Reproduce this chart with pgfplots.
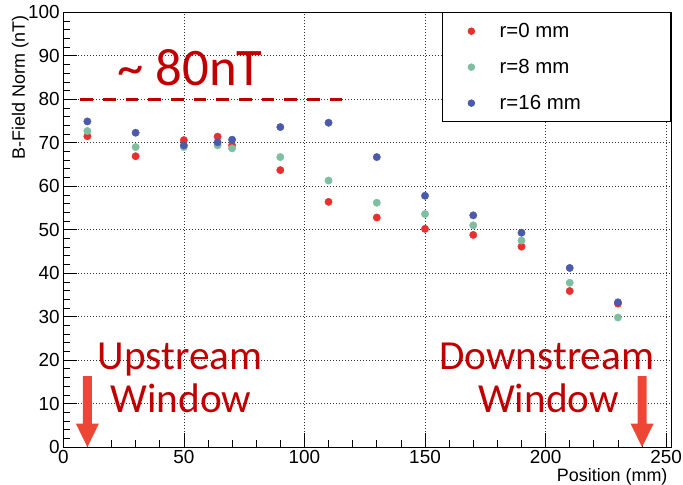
\documentclass[border=0pt]{standalone}
\usepackage{fontspec}
\setmainfont{Liberation Sans}
\newfontfamily\calibri{Carlito}
\usepackage{pgfplots}
\pgfplotsset{compat=1.18}
\usetikzlibrary{calc}

\definecolor{ptred}{HTML}{E8302E}
\definecolor{ptgreen}{HTML}{7DBFA0}
\definecolor{ptblue}{HTML}{4B5AAA}
\definecolor{annred}{HTML}{C00000}
\definecolor{arrowred}{HTML}{EE4634}

\newcommand{\legtext}[1]{\hspace{25bp}\makebox[145bp][l]{#1}}

\begin{document}
\begin{tikzpicture}
\begin{axis}[
    name=ax,
    scale only axis,
    width=608bp, height=435bp,
    xmin=0, xmax=252, ymin=0, ymax=100,
    xtick={0,50,...,250}, ytick={0,10,...,100},
    minor x tick num=4, minor y tick num=4,
    tick align=inside, xtick pos=bottom, ytick pos=left,
    major tick length=14bp, minor tick length=7bp,
    grid=major,
    major grid style={dash pattern=on 1bp off 2bp, black!80, line width=0.6pt},
    axis line style={line width=0.8pt},
    tick style={black, line width=0.7pt},
    /pgf/number format/assume math mode=true,
    tick label style={font=\fontsize{19}{19}\selectfont},
    legend style={at={(1,1)}, anchor=north east, draw=black, line width=0.8pt,
        inner xsep=26bp, inner ysep=12bp, row sep=23bp,
        font=\fontsize{20.5}{20.5}\selectfont,
        nodes={inner sep=0pt, text height=13bp, text depth=0pt}},
    legend cell align=left,
    legend image post style={mark size=3.3bp},
]
\addplot[only marks, mark=*, mark size=3.7bp, color=ptred] coordinates {
    (10,71.5) (30,66.9) (50,70.6) (64,71.4) (70,69.4) (90,63.7) (110,56.4)
    (130,52.8) (150,50.2) (170,48.8) (190,46.1) (210,35.9) (230,33.0)
};
\addplot[only marks, mark=*, mark size=3.7bp, color=ptgreen] coordinates {
    (10,72.7) (30,69.0) (50,69.0) (64,69.4) (70,68.7) (90,66.7) (110,61.3)
    (130,56.2) (150,53.6) (170,51.0) (190,47.5) (210,37.8) (230,29.8)
};
\addplot[only marks, mark=*, mark size=3.7bp, color=ptblue] coordinates {
    (10,74.9) (30,72.3) (50,69.4) (64,70.1) (70,70.7) (90,73.6) (110,74.6)
    (130,66.7) (150,57.8) (170,53.3) (190,49.3) (210,41.2) (230,33.3)
};
\legend{\legtext{r=0 mm}, \legtext{r=8 mm}, \legtext{r=16 mm}}

% ~80 nT reference level
\addplot[annred, line width=3.3bp, dash pattern=on 12.7bp off 10bp, no marks]
    coordinates {(7,80) (119,80)};

% window arrows
\addplot[fill=arrowred, draw=none, no marks] coordinates {
    (8.13,16.3) (11.87,16.3) (11.87,5.4) (14.77,5.4) (10,0) (5.23,5.4) (8.13,5.4)
} -- cycle;
\addplot[fill=arrowred, draw=none, no marks] coordinates {
    (238.13,16.3) (241.87,16.3) (241.87,5.4) (244.77,5.4) (240,0) (235.23,5.4) (238.13,5.4)
} -- cycle;

\node[annred, font=\calibri\fontsize{53}{53}\selectfont] at (axis cs:52.6,87.3) {\textasciitilde\ 80nT};
\node[annred, anchor=base, font=\calibri\fontsize{41.5}{41.5}\selectfont] at (axis cs:48.4,17.85) {Upstream};
\node[annred, anchor=base, font=\calibri\fontsize{41.5}{41.5}\selectfont] at (axis cs:48.8,8.0) {Window};
\node[annred, anchor=base, font=\calibri\fontsize{41.5}{41.5}\selectfont] at (axis cs:200.5,17.85) {Downstream};
\node[annred, anchor=base, font=\calibri\fontsize{41.5}{41.5}\selectfont] at (axis cs:201.2,8.0) {Window};
\end{axis}

\node[rotate=90, anchor=base east, font=\fontsize{18}{18}\selectfont] at ($(ax.north west)+(-38.3bp,0)$) {B-Field Norm (nT)};
\node[anchor=base east, font=\fontsize{18}{18}\selectfont] at ($(ax.south east)+(0,-34bp)$) {Position (mm)};

\pgfresetboundingbox
\path ($(ax.south west)+(-63.3bp,-37.3bp)$) rectangle ($(ax.north east)+(12bp,12.3bp)$);
\end{tikzpicture}
\end{document}
